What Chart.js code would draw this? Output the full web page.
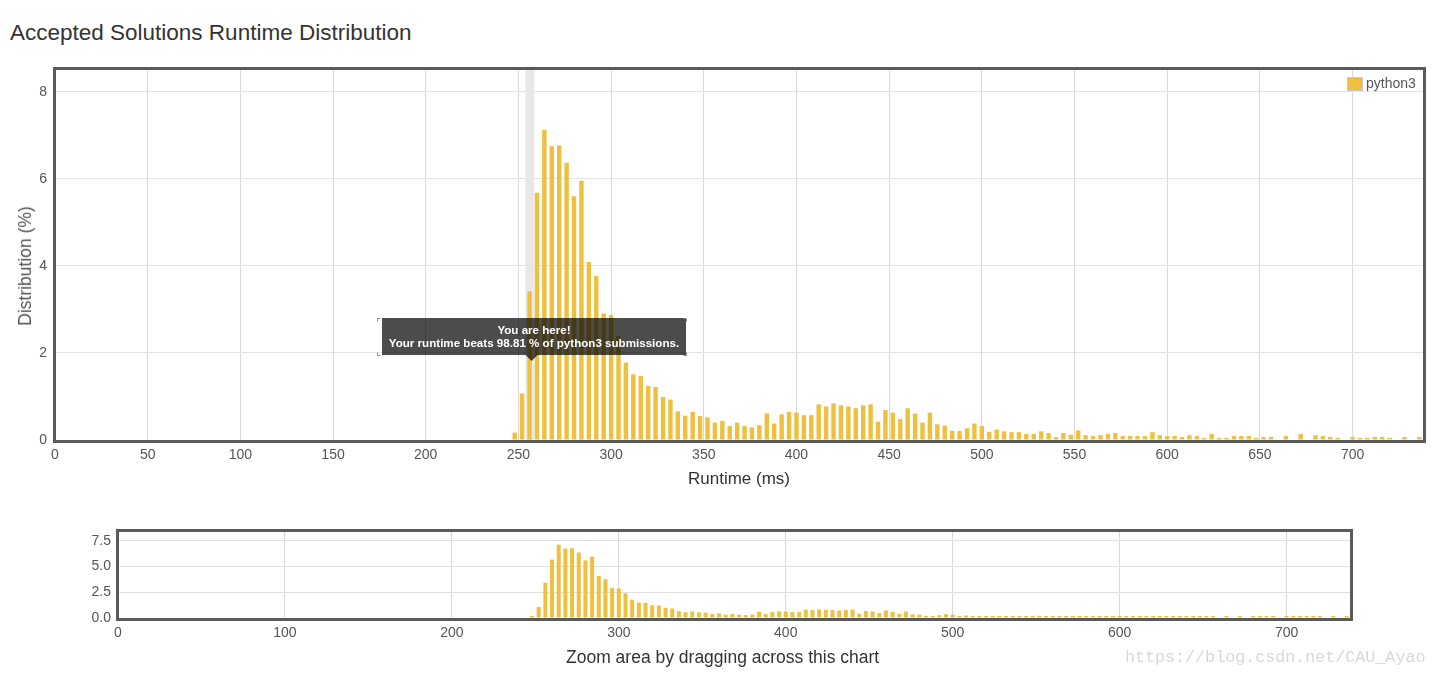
<!DOCTYPE html>
<html>
<head>
<meta charset="utf-8">
<script src="https://cdn.jsdelivr.net/npm/chart.js@4.4.0/dist/chart.umd.min.js"></script>
<style>
html,body{margin:0;padding:0;background:#fff;width:1436px;height:677px;overflow:hidden;font-family:"Liberation Sans",Arial,sans-serif;}
#title{position:absolute;left:10px;top:19px;font-size:22.5px;line-height:28px;color:#333;white-space:nowrap;}
#mainWrap{position:absolute;left:0;top:0;width:1436px;height:500px;}
#navWrap{position:absolute;left:0;top:500px;width:1436px;height:177px;}
#yTitle{position:absolute;left:25px;top:266px;transform:translate(-50%,-50%) rotate(-90deg);font-size:17.5px;line-height:20px;color:#555;white-space:nowrap;}
#navTitle{position:absolute;left:566px;top:647px;font-size:17.5px;line-height:21px;color:#333;white-space:nowrap;}
#wm{position:absolute;left:1125px;top:648px;font-family:"Liberation Mono","DejaVu Sans Mono",monospace;font-size:16.7px;line-height:20px;color:#d8d8d8;white-space:nowrap;}
</style>
</head>
<body>
<div id="title">Accepted Solutions Runtime Distribution</div>
<div id="mainWrap"><canvas id="main"></canvas></div>
<div id="navWrap"><canvas id="nav"></canvas></div>
<div id="yTitle">Distribution (%)</div>
<div id="navTitle">Zoom area by dragging across this chart</div>
<div id="wm">https://blog.csdn.net/CAU_Ayao</div>
<script>
// ---- data ----
const runtimes = [248,252,256,260,264,268,272,276,280,284,288,292,296,300,304,308,312,316,320,324,328,332,336,340,344,348,352,356,360,364,368,372,376,380,384,388,392,396,400,404,408,412,416,420,424,428,432,436,440,444,448,452,456,460,464,468,472,476,480,484,488,492,496,500,504,508,512,516,520,524,528,532,536,540,544,548,552,556,560,564,568,572,576,580,584,588,592,596,600,604,608,612,616,620,624,628,632,636,640,644,648,652,656,660,664,668,672,676,680,684,688,692,696,700,704,708,712,716,720,724,728,732,736];
const distribution = [0.17,1.07,3.42,5.68,7.13,6.75,6.77,6.37,5.60,5.96,4.09,3.77,2.91,2.87,2.40,1.78,1.51,1.47,1.24,1.22,0.99,0.93,0.66,0.56,0.65,0.55,0.52,0.40,0.44,0.32,0.40,0.32,0.29,0.34,0.61,0.38,0.59,0.65,0.63,0.57,0.57,0.82,0.77,0.84,0.80,0.77,0.73,0.80,0.82,0.42,0.69,0.63,0.48,0.73,0.61,0.40,0.63,0.36,0.33,0.21,0.21,0.27,0.38,0.32,0.19,0.24,0.20,0.18,0.18,0.14,0.14,0.20,0.16,0.07,0.16,0.12,0.22,0.11,0.09,0.11,0.14,0.16,0.09,0.09,0.09,0.09,0.18,0.11,0.09,0.09,0.07,0.11,0.09,0.05,0.14,0.05,0.05,0.09,0.09,0.09,0.05,0.07,0.07,null,0.09,null,0.14,null,0.11,0.09,0.07,0.05,null,0.07,0.05,0.05,0.07,0.07,0.05,null,0.07,null,0.07];
const seriesName = 'python3';
const mainXTicks = [0,50,100,150,200,250,300,350,400,450,500,550,600,650,700];
const mainYTicks = [0,2,4,6,8];
const navXTicks = [0,100,200,300,400,500,600,700];
const navYTicks = [0,2.5,5,7.5];
const xMax = 738;
const yMax = 8.55;
const hereRuntime = 256;
const hereBand = [253.8, 258.6];
const tipAnchorY = 1.83;
const tipTitle = 'You are here!';
const tipBody = 'Your runtime beats 98.81 % of python3 submissions.';

// ---- style ----
const FONT = '"Liberation Sans", Arial, sans-serif';
const BAR = 'rgb(239,192,64)';

const framePlugin = {
  id: 'frame',
  beforeDatasetsDraw(chart, args, o) {
    if (!o.band) return;
    const {ctx, chartArea: a, scales: {x}} = chart;
    const x0 = x.getPixelForValue(o.band[0]), x1 = x.getPixelForValue(o.band[1]);
    ctx.save();
    ctx.fillStyle = '#e8e8e8';
    ctx.fillRect(x0, a.top, x1 - x0, a.bottom - a.top);
    ctx.restore();
  },
  afterDraw(chart, args, o) {
    const {ctx, chartArea: a} = chart;
    ctx.save();
    ctx.strokeStyle = '#5a5a5a';
    ctx.lineWidth = 3;
    ctx.strokeRect(a.left - 0.5, a.top + 0.5, a.right - a.left + 2, a.bottom - a.top + 1);
    if (o.legend) {
      const lx = a.right - 75, ly = a.top + 10;
      ctx.fillStyle = BAR;
      ctx.fillRect(lx, ly, 14, 12);
      ctx.strokeStyle = '#c8c8c8';
      ctx.lineWidth = 1;
      ctx.strokeRect(lx - 0.5, ly - 0.5, 15, 13);
      ctx.fillStyle = '#555';
      ctx.font = '14px ' + FONT;
      ctx.textAlign = 'left';
      ctx.textBaseline = 'middle';
      ctx.fillText(o.legend, lx + 18, ly + 6);
    }
    if (o.tip) {
      const {x, y} = chart.scales;
      const cx = x.getPixelForValue(o.tip.x);
      const tipY = Math.round(y.getPixelForValue(o.tip.y));
      const w = 304, h = 37, caret = 6;
      const bx = Math.round(cx - w / 2 + 4), by = tipY - caret - h + 1;
      ctx.fillStyle = 'rgba(0,0,0,0.7)';
      ctx.fillRect(bx, by, w, h);
      ctx.beginPath();
      ctx.moveTo(cx + 2 - 6, by + h);
      ctx.lineTo(cx + 2 + 6, by + h);
      ctx.lineTo(cx + 2, by + h + caret);
      ctx.closePath();
      ctx.fill();
      // corner marks
      ctx.strokeStyle = '#888';
      ctx.lineWidth = 1;
      const marks = [[bx - 5, by, 1, 1], [bx - 5, by + h, 1, -1], [bx + w, by, -1, 1], [bx + w, by + h, -1, -1]];
      marks.forEach(([mx, my, dx, dy]) => {
        ctx.beginPath();
        ctx.moveTo(mx + 0.5 + dx * 3, my + 0.5);
        ctx.lineTo(mx + 0.5, my + 0.5);
        ctx.lineTo(mx + 0.5, my + 0.5 + dy * 3);
        ctx.stroke();
      });
      ctx.fillStyle = '#fff';
      ctx.font = 'bold 11.6px ' + FONT;
      ctx.textAlign = 'center';
      ctx.textBaseline = 'middle';
      ctx.fillText(o.tip.title, bx + w / 2, by + 12.5);
      ctx.fillText(o.tip.body, bx + w / 2, by + 25.5);
    }
    ctx.restore();
  }
};

const points = runtimes.map((r, i) => ({x: r, y: distribution[i]}));

function setTicks(list) {
  return function (scale) { scale.ticks = list.map(v => ({value: v})); };
}

new Chart(document.getElementById('main'), {
  type: 'bar',
  data: {datasets: [{label: seriesName, data: points, backgroundColor: BAR, borderWidth: 0,
    barPercentage: 0.75, categoryPercentage: 0.8}]},
  options: {
    responsive: true, maintainAspectRatio: false, animation: false, events: [],
    layout: {padding: {left: 0, right: 13, top: 68, bottom: 0}},
    plugins: {
      legend: {display: false}, tooltip: {enabled: false},
      frame: {band: hereBand, legend: seriesName,
        tip: {x: hereRuntime, y: tipAnchorY, title: tipTitle, body: tipBody}}
    },
    scales: {
      x: {type: 'linear', min: 0, max: xMax, offset: false,
        afterBuildTicks: setTicks(mainXTicks),
        ticks: {color: '#555', font: {size: 14, family: FONT}, padding: 7, maxRotation: 0, autoSkip: false},
        grid: {color: '#d8d8d8', drawTicks: false, offset: false},
        border: {display: false},
        title: {display: true, text: 'Runtime (ms)', color: '#333', font: {size: 17, family: FONT}, padding: {top: 0, bottom: 10}},
        afterFit(s) { s.height = 60; }
      },
      y: {min: 0, max: yMax,
        afterBuildTicks: setTicks(mainYTicks),
        ticks: {color: '#555', font: {size: 14, family: FONT}, padding: 8},
        grid: {color: '#e3e3e3', drawTicks: false},
        border: {display: false},
        title: {display: false},
        afterFit(s) { s.width = 55; }
      }
    }
  },
  plugins: [framePlugin]
});

new Chart(document.getElementById('nav'), {
  type: 'bar',
  data: {datasets: [{label: seriesName, data: points, backgroundColor: BAR, borderWidth: 0,
    barPercentage: 0.75, categoryPercentage: 0.8, minBarLength: 2}]},
  options: {
    responsive: true, maintainAspectRatio: false, animation: false, events: [],
    layout: {padding: {left: 0, right: 86, top: 30, bottom: 0}},
    plugins: {legend: {display: false}, tooltip: {enabled: false}, frame: {}},
    scales: {
      x: {type: 'linear', min: 0, max: xMax, offset: false,
        afterBuildTicks: setTicks(navXTicks),
        ticks: {color: '#555', font: {size: 14, family: FONT}, padding: 7, maxRotation: 0, autoSkip: false},
        grid: {color: '#d8d8d8', drawTicks: false, offset: false},
        border: {display: false},
        afterFit(s) { s.height = 59; }
      },
      y: {min: 0, max: yMax,
        afterBuildTicks: setTicks(navYTicks),
        ticks: {color: '#555', font: {size: 14, family: FONT}, padding: 7, callback: v => v.toFixed(1)},
        grid: {color: '#e0e0e0', drawTicks: false},
        border: {display: false},
        afterFit(s) { s.width = 118; }
      }
    }
  },
  plugins: [framePlugin]
});
</script>
</body>
</html>
